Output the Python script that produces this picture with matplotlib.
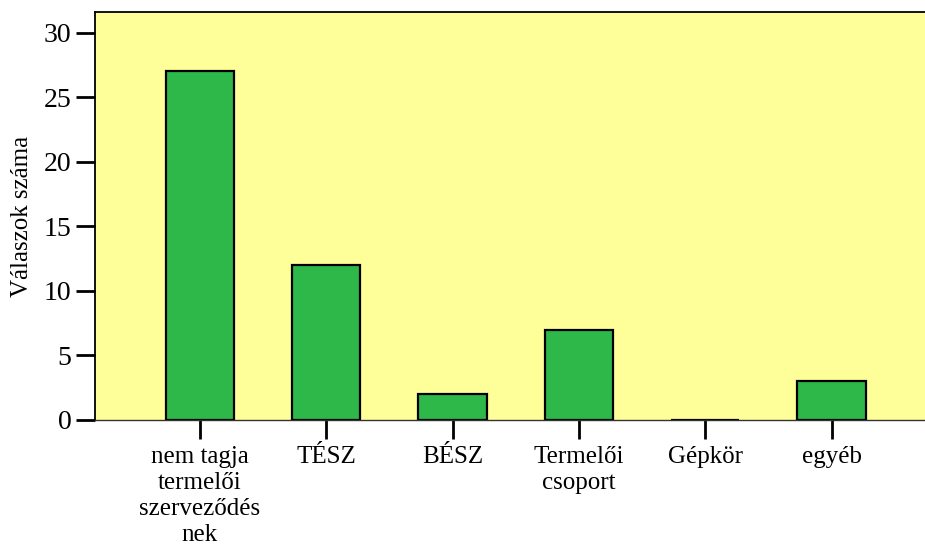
import matplotlib
matplotlib.use("Agg")
import matplotlib.pyplot as plt

plt.rcParams['font.family'] = ['Liberation Serif', 'DejaVu Serif']

# answers per membership category
categories = ["nem tagja\ntermelői\nszerveződés\nnek", "TÉSZ", "BÉSZ",
              "Termelői\ncsoport", "Gépkör", "egyéb"]
counts = [27, 12, 2, 7, 0, 3]
yticks = [0, 5, 10, 15, 20, 25, 30]

fig = plt.figure(figsize=(9.25, 5.49), dpi=100)
ax = fig.add_axes([0.1027, 0.235, 0.8973, 0.743])
ax.set_facecolor("#FFFF99")

x = list(range(len(categories)))
ax.bar(x, counts, width=0.54, color="#2EB84A", edgecolor="black", linewidth=1.6)

ax.set_xlim(-0.83, 5.74)
ax.set_ylim(0, 31.6)
ax.set_yticks(yticks)
ax.set_xticks(x)
ax.set_xticklabels(categories, fontsize=18, linespacing=1.22, va="top")
ax.tick_params(axis="y", labelsize=20, length=14, width=2, pad=3, direction="out")
ax.tick_params(axis="x", length=14, width=2, pad=5, direction="out")

ax.set_ylabel("Válaszok száma", fontsize=18, labelpad=8)

ax.spines["right"].set_visible(False)
ax.spines["top"].set_linewidth(1.3)
ax.spines["left"].set_linewidth(1.3)
ax.spines["bottom"].set_linewidth(1.0)
ax.spines["bottom"].set_color("#333333")

fig.savefig("out.png", dpi=100)
